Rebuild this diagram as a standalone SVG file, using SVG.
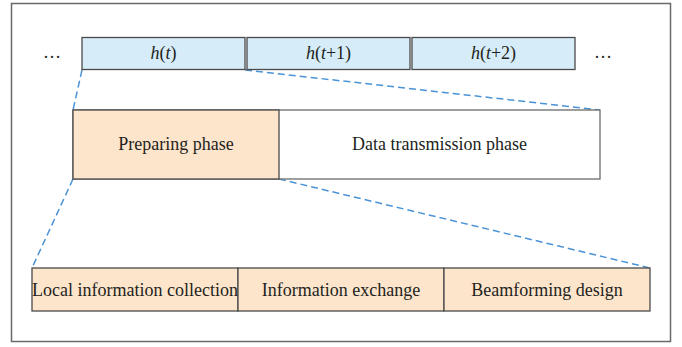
<svg xmlns="http://www.w3.org/2000/svg" width="682" height="347" viewBox="0 0 682 347">
  <style>
    .lbl { font-family: "Liberation Serif", "Times New Roman", serif; font-size: 18px; fill: #231f20; text-anchor: middle; }
    .it { font-style: italic; }
    .slot { fill: #d6edf9; stroke: #4a4a4a; stroke-width: 1.3; }
    .warm { fill: #fde5cc; stroke: #4a4a4a; stroke-width: 1.3; }
    .plain { fill: #ffffff; stroke: #6a6a6a; stroke-width: 1.3; }
    .zoom { fill: none; stroke: #4b93d6; stroke-width: 1.5; stroke-dasharray: 7 4; }
  </style>

  <!-- outer frame -->
  <rect x="11.5" y="3.5" width="659" height="338" fill="#ffffff" stroke="#6a6a6a" stroke-width="1.5"/>

  <!-- connectors: zoom-in guides between levels -->
  <g id="connectors">
    <line class="zoom" x1="82" y1="70" x2="73" y2="110"/>
    <line class="zoom" x1="245" y1="70" x2="600" y2="110"/>
    <line class="zoom" x1="73" y1="179" x2="32" y2="268"/>
    <line class="zoom" x1="279" y1="179" x2="650" y2="268"/>
  </g>

  <!-- channel time slots -->
  <g id="dots-left"><text class="lbl" x="52" y="58">…</text></g>
  <g id="slot-t">
    <rect class="slot" x="82" y="37.5" width="163" height="32"/>
    <text class="lbl" x="163.5" y="59"><tspan class="it">h</tspan>(<tspan class="it">t</tspan>)</text>
  </g>
  <g id="slot-t1">
    <rect class="slot" x="247" y="37.5" width="163" height="32"/>
    <text class="lbl" x="328.5" y="59"><tspan class="it">h</tspan>(<tspan class="it">t</tspan>+1)</text>
  </g>
  <g id="slot-t2">
    <rect class="slot" x="412" y="37.5" width="163" height="32"/>
    <text class="lbl" x="493.5" y="59"><tspan class="it">h</tspan>(<tspan class="it">t</tspan>+2)</text>
  </g>
  <g id="dots-right"><text class="lbl" x="603" y="58">…</text></g>

  <!-- phases of one slot -->
  <g id="data-phase">
    <rect class="plain" x="73" y="110" width="527" height="69"/>
    <text class="lbl" x="439.5" y="150">Data transmission phase</text>
  </g>
  <g id="preparing-phase">
    <rect class="warm" x="73" y="110" width="206" height="69"/>
    <text class="lbl" x="176" y="150">Preparing phase</text>
  </g>

  <!-- steps of the preparing phase -->
  <g id="local-info">
    <rect class="warm" x="32" y="268" width="206" height="43"/>
    <text class="lbl" x="135" y="295.5">Local information collection</text>
  </g>
  <g id="info-exchange">
    <rect class="warm" x="238" y="268" width="206" height="43"/>
    <text class="lbl" x="341" y="295.5">Information exchange</text>
  </g>
  <g id="beamforming">
    <rect class="warm" x="444" y="268" width="206" height="43"/>
    <text class="lbl" x="547" y="295.5">Beamforming design</text>
  </g>
</svg>
